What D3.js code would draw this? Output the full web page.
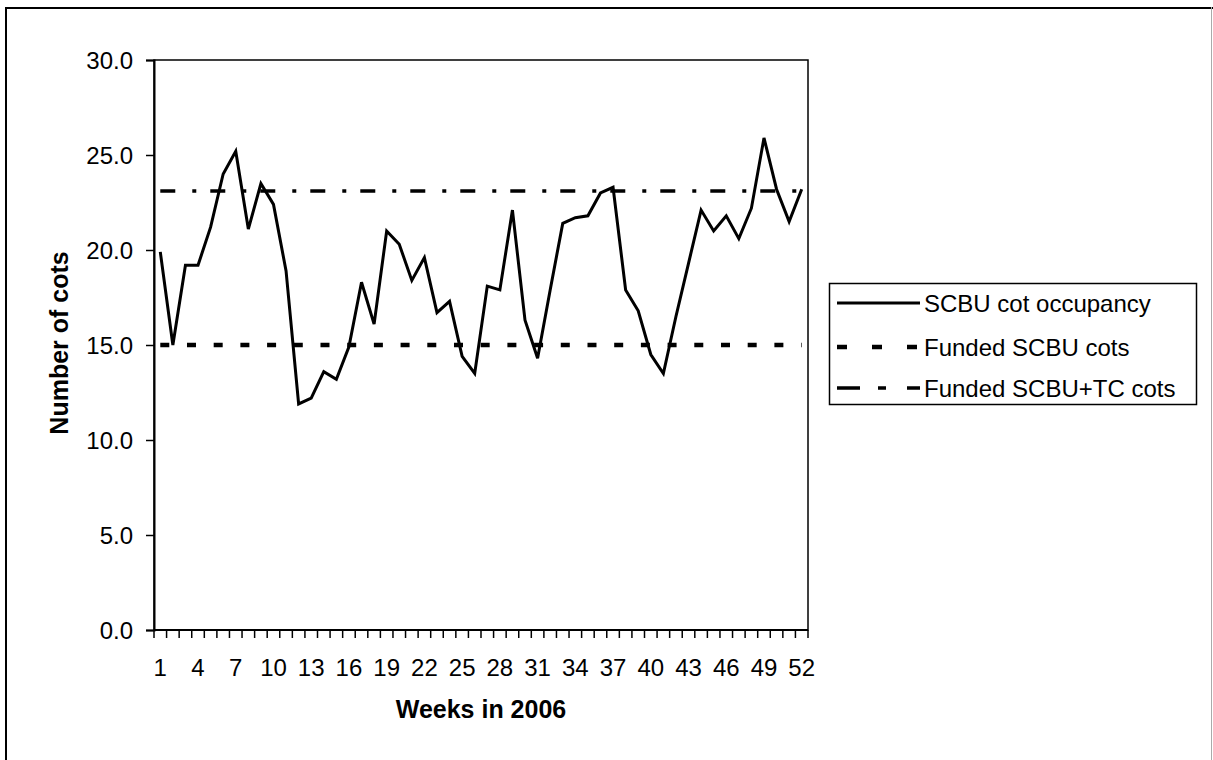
<!DOCTYPE html>
<html>
<head>
<meta charset="utf-8">
<script src="https://cdn.jsdelivr.net/npm/d3@7/dist/d3.min.js"></script>
<style>
  html, body { margin: 0; padding: 0; background: #fff; }
  svg { display: block; }
  text { font-family: "Liberation Sans", Arial, sans-serif; fill: #000; }
</style>
</head>
<body>
<svg id="chart" width="1213" height="760"></svg>
<script>
// ---- data ----
const weeks = d3.range(1, 53);
const occupancy = [19.9, 15.0, 19.2, 19.2, 21.2, 24.0, 25.2, 21.1, 23.5, 22.4,
                   18.9, 11.9, 12.2, 13.6, 13.2, 14.9, 18.3, 16.1, 21.0, 20.3,
                   18.4, 19.6, 16.7, 17.3, 14.4, 13.5, 18.1, 17.9, 22.1, 16.3,
                   14.3, 17.9, 21.4, 21.7, 21.8, 23.0, 23.3, 17.9, 16.8, 14.5,
                   13.5, 16.5, 19.3, 22.1, 21.0, 21.8, 20.6, 22.2, 25.9, 23.2,
                   21.5, 23.2];
const fundedSCBU = 15.0;
const fundedSCBUTC = 23.1;
const yTicks = [0, 5, 10, 15, 20, 25, 30];
const xLabelWeeks = weeks.filter(w => (w - 1) % 3 === 0);
const seriesNames = ["SCBU cot occupancy", "Funded SCBU cots", "Funded SCBU+TC cots"];

// ---- layout ----
const svg = d3.select("#chart");
const plot = { left: 154, right: 808, top: 60, bottom: 630 };

// outer frame
svg.append("line").attr("x1", 6).attr("x2", 6).attr("y1", 7).attr("y2", 760).attr("stroke", "#000").attr("stroke-width", 2);
svg.append("line").attr("x1", 5).attr("x2", 1213).attr("y1", 8).attr("y2", 8).attr("stroke", "#000").attr("stroke-width", 2);
svg.append("line").attr("x1", 1211.5).attr("x2", 1211.5).attr("y1", 7).attr("y2", 760).attr("stroke", "#aaa").attr("stroke-width", 1);

const x = d3.scaleBand().domain(weeks).range([plot.left, plot.right]).padding(0);
const bw = x.bandwidth();
const cx = w => x(w) + bw / 2;
const y = d3.scaleLinear().domain([0, 30]).range([plot.bottom, plot.top]);

// plot frame
svg.append("rect")
  .attr("x", plot.left).attr("y", plot.top)
  .attr("width", plot.right - plot.left).attr("height", plot.bottom - plot.top)
  .attr("fill", "none").attr("stroke", "#000").attr("stroke-width", 1.5);

// y axis ticks & labels
const yAxis = d3.axisLeft(y).tickValues(yTicks).tickSize(8).tickPadding(13)
  .tickFormat(d3.format(".1f"));
const gy = svg.append("g").attr("transform", `translate(${plot.left},0)`).call(yAxis);
gy.select(".domain").attr("stroke", "#000").attr("stroke-width", 2);
gy.selectAll(".tick line").attr("stroke", "#000").attr("stroke-width", 1.5);
gy.selectAll(".tick text").attr("font-size", 24).attr("fill", "#222")
  .attr("font-family", "'Liberation Sans', Arial, sans-serif").attr("dy", "0.35em");

// x axis ticks at category boundaries
const gx = svg.append("g");
gx.append("line").attr("x1", plot.left).attr("x2", plot.right)
  .attr("y1", plot.bottom).attr("y2", plot.bottom).attr("stroke", "#000").attr("stroke-width", 2);
const boundaries = weeks.map(w => x(w)).concat([x(weeks[weeks.length - 1]) + bw]);
gx.selectAll("line.tk").data(boundaries).enter().append("line").attr("class", "tk")
  .attr("x1", d => d).attr("x2", d => d)
  .attr("y1", plot.bottom).attr("y2", plot.bottom + 8)
  .attr("stroke", "#000").attr("stroke-width", 1.5);
gx.selectAll("text").data(xLabelWeeks).enter().append("text")
  .attr("x", d => cx(d)).attr("y", 676)
  .attr("text-anchor", "middle").attr("font-size", 24).attr("fill", "#222")
  .text(d => d);

// axis titles
svg.append("text").attr("x", (plot.left + plot.right) / 2).attr("y", 718)
  .attr("text-anchor", "middle").attr("font-size", 25).attr("font-weight", "bold")
  .text("Weeks in 2006");
svg.append("text").attr("transform", "translate(68,343) rotate(-90)")
  .attr("text-anchor", "middle").attr("font-size", 25).attr("font-weight", "bold")
  .text("Number of cots");

// reference lines
const firstX = cx(weeks[0]), lastX = cx(weeks[weeks.length - 1]);
svg.append("line").attr("x1", firstX).attr("x2", lastX)
  .attr("y1", y(fundedSCBU)).attr("y2", y(fundedSCBU))
  .attr("stroke", "#000").attr("stroke-width", 4.5).attr("stroke-dasharray", "9,17.7");
svg.append("line").attr("x1", firstX).attr("x2", lastX)
  .attr("y1", y(fundedSCBUTC)).attr("y2", y(fundedSCBUTC))
  .attr("stroke", "#000").attr("stroke-width", 3.5).attr("stroke-dasharray", "15,17,4,14");

// occupancy line
const line = d3.line().x((d, i) => cx(weeks[i])).y(d => y(d));
svg.append("path").datum(occupancy).attr("d", line)
  .attr("fill", "none").attr("stroke", "#000").attr("stroke-width", 3)
  .attr("stroke-linejoin", "miter");

// legend
const lg = svg.append("g");
lg.append("rect").attr("x", 829.5).attr("y", 283.5).attr("width", 367).attr("height", 121)
  .attr("fill", "#fff").attr("stroke", "#000").attr("stroke-width", 1.5);
const legendRows = [
  { name: seriesNames[0], ly: 303, width: 3, dash: null },
  { name: seriesNames[1], ly: 347, width: 4.5, dash: "10,25" },
  { name: seriesNames[2], ly: 388, width: 3.5, dash: "23,18,8,21" }
];
legendRows.forEach(r => {
  const l = lg.append("line").attr("x1", 837).attr("x2", 920)
    .attr("y1", r.ly).attr("y2", r.ly).attr("stroke", "#000").attr("stroke-width", r.width);
  if (r.dash) l.attr("stroke-dasharray", r.dash);
  lg.append("text").attr("x", 924).attr("y", r.ly + 9).attr("font-size", 24).attr("fill", "#222")
    .text(r.name);
});
</script>
</body>
</html>
